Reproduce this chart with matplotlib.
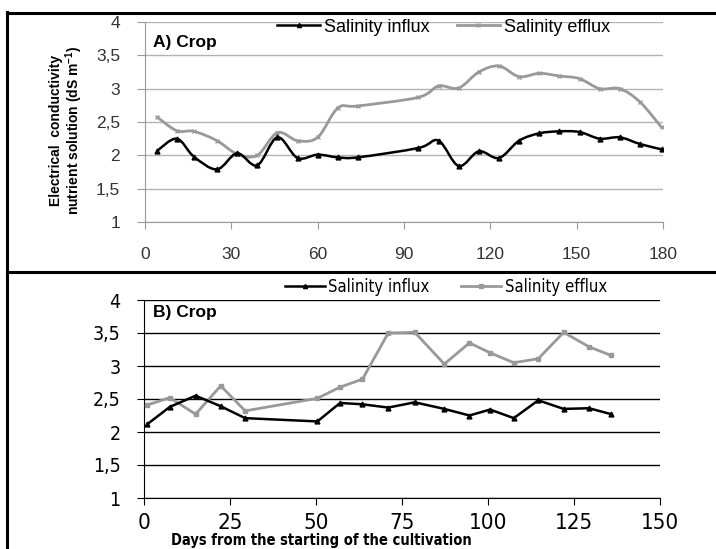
import matplotlib
matplotlib.use("Agg")
import matplotlib.pyplot as plt
import numpy as np
from matplotlib.path import Path
from matplotlib.patches import PathPatch
from matplotlib.lines import Line2D
from matplotlib import font_manager

plt.rcParams['font.family'] = ['Liberation Sans', 'DejaVu Sans']
plt.rcParams['mathtext.fontset'] = 'custom'
plt.rcParams['mathtext.rm'] = 'Liberation Sans'
plt.rcParams['mathtext.bf'] = 'Liberation Sans:bold'

# A) Crop (smoothed lines)
days_a = [4, 11, 17, 25, 32, 39, 46, 53, 60, 67, 74, 95, 102, 109, 116, 123,
          130, 137, 144, 151, 158, 165, 172, 179.5]
influx_a = [2.06, 2.25, 1.98, 1.79, 2.03, 1.85, 2.27, 1.96, 2.01, 1.97, 1.97, 2.11,
            2.22, 1.84, 2.06, 1.96, 2.22, 2.33, 2.36, 2.35, 2.25, 2.27, 2.17, 2.09]
efflux_a = [2.58, 2.37, 2.36, 2.22, 2.02, 2.00, 2.34, 2.22, 2.27, 2.71, 2.74, 2.87,
            3.04, 3.01, 3.25, 3.34, 3.18, 3.23, 3.19, 3.15, 3.00, 3.00, 2.80, 2.42]

# B) Crop (straight lines)
days_b = [1, 7.5, 15, 22.3, 29.4, 50.4, 57, 63.5, 71, 78.7, 87.3, 94.6, 100.6,
          107.5, 114.6, 122, 129.4, 135.8]
influx_b = [2.12, 2.38, 2.55, 2.39, 2.21, 2.16, 2.44, 2.42, 2.37, 2.45, 2.35, 2.25,
            2.34, 2.21, 2.48, 2.35, 2.36, 2.27]
efflux_b = [2.41, 2.52, 2.27, 2.70, 2.32, 2.51, 2.68, 2.80, 3.50, 3.51, 3.03, 3.35,
            3.20, 3.05, 3.11, 3.51, 3.29, 3.16]

y_ticks = [1, 1.5, 2, 2.5, 3, 3.5, 4]
y_labels = ['1', '1,5', '2', '2,5', '3', '3,5', '4']
xticks_a = [0, 30, 60, 90, 120, 150, 180]
xticks_b = [0, 25, 50, 75, 100, 125, 150]

ylab = 'Electrical  conductivity\nnutrient solution (dS m$^{\\mathbf{-1}}$)'

# narrow font for the lower panel (condensed DejaVu if there is one)
names = {f.name for f in font_manager.fontManager.ttflist}
cond = [f for f in font_manager.fontManager.ttflist
        if f.name == 'DejaVu Sans' and 'ondensed' in str(f.stretch) + f.fname]
if 'Liberation Sans Narrow' in names:
    narrow = dict(family='Liberation Sans Narrow')
elif cond:
    narrow = dict(family='DejaVu Sans', stretch='condensed')
else:
    narrow = dict(family='Liberation Sans')


def smooth_path(x, y):
    # excel-like smoothed line as bezier curve through the points
    x = np.asarray(x, float)
    y = np.asarray(y, float)
    pts = np.column_stack([x, y])
    verts = [pts[0]]
    codes = [Path.MOVETO]
    n = len(pts)
    for i in range(n - 1):
        p0 = pts[max(i - 1, 0)]
        p1 = pts[i]
        p2 = pts[i + 1]
        p3 = pts[min(i + 2, n - 1)]
        c1 = p1 + (p2 - p0) / 6.0
        c2 = p2 - (p3 - p1) / 6.0
        verts += [c1, c2, p2]
        codes += [Path.CURVE4] * 3
    return Path(verts, codes)


fig = plt.figure(figsize=(7.16, 5.49), dpi=100)

# ---- top panel
ax1 = fig.add_axes([145 / 716, 1 - 222 / 549, (663 - 145) / 716, 200 / 549])
ax1.add_patch(PathPatch(smooth_path(days_a, efflux_a), fill=False, ec='#999999', lw=2.0, zorder=3))
ax1.add_patch(PathPatch(smooth_path(days_a, influx_a), fill=False, ec='black', lw=1.8, zorder=4))
ax1.plot(days_a, efflux_a, ls='none', marker='x', ms=3, mew=1, color='#999999', zorder=3)
ax1.plot(days_a, influx_a, ls='none', marker='^', ms=3.5, color='black', zorder=4)
ax1.set_xlim(0, 180)
ax1.set_ylim(1, 4)
ax1.set_xticks(xticks_a)
ax1.set_yticks(y_ticks)
ax1.set_yticklabels(y_labels)
ax1.grid(axis='y', color='#b4b4b4', lw=1)
ax1.set_axisbelow(True)
for s in ['top', 'right']:
    ax1.spines[s].set_visible(False)
for s in ['left', 'bottom']:
    ax1.spines[s].set_color('#999999')
ax1.tick_params(axis='x', length=5, color='#999999', pad=13, labelsize=12.5, labelcolor='#333333')
ax1.tick_params(axis='y', length=6, color='#999999', pad=12, labelsize=12.5, labelcolor='#333333')
ax1.text(153 / 716, 1 - 43 / 549, 'A) Crop', transform=fig.transFigure, fontsize=12.5,
         fontweight='bold', va='center', ha='left')
h1, = ax1.plot([], [], color='black', lw=1.8, marker='^', ms=3)
h2, = ax1.plot([], [], color='#999999', lw=2.0, marker='x', ms=3)
fig.legend([h1, h2], ['Salinity influx', 'Salinity efflux'], ncol=2, frameon=False,
           loc='center left', bbox_to_anchor=(277 / 716, 1 - 27 / 549), fontsize=13,
           handlelength=2.4, handletextpad=0.2, columnspacing=1.5, borderpad=0, borderaxespad=0)
fig.text(67 / 716, 1 - 130 / 549, ylab, rotation=90, ha='center', va='center',
         fontsize=10, fontweight='bold', multialignment='center', linespacing=1.0)

# ---- bottom panel
ax2 = fig.add_axes([144 / 716, 1 - 498 / 549, (660 - 144) / 716, 198 / 549])
ax2.plot(days_b, efflux_b, color='#999999', lw=2.0, marker='s', ms=2.5, zorder=3)
ax2.plot(days_b, influx_b, color='black', lw=1.8, marker='^', ms=3.5, zorder=4)
ax2.set_xlim(0, 150)
ax2.set_ylim(1, 4)
ax2.set_xticks(xticks_b)
ax2.set_yticks(y_ticks)
ax2.set_yticklabels(y_labels)
ax2.grid(axis='y', color='black', lw=1)
ax2.set_axisbelow(True)
for s in ['top', 'right']:
    ax2.spines[s].set_visible(False)
ax2.tick_params(axis='x', length=5, pad=6, labelsize=16)
ax2.tick_params(axis='y', length=5, pad=12, labelsize=14)
for lab in ax2.get_xticklabels() + ax2.get_yticklabels():
    lab.set(**narrow)
ax2.text(153 / 716, 1 - 313 / 549, 'B) Crop', transform=fig.transFigure, fontsize=12.5,
         fontweight='bold', va='center', ha='left')
h3, = ax2.plot([], [], color='black', lw=1.8, marker='^', ms=3)
h4, = ax2.plot([], [], color='#999999', lw=2.0, marker='s', ms=2.5)
leg = fig.legend([h3, h4], ['Salinity influx', 'Salinity efflux'], ncol=2, frameon=False,
                 loc='center left', bbox_to_anchor=(285 / 716, 1 - 287 / 549), fontsize=12,
                 handlelength=2.4, handletextpad=0.2, columnspacing=1.9, borderpad=0,
                 borderaxespad=0)
for t in leg.get_texts():
    t.set(**narrow)
fig.text(321 / 716, 1 - 541 / 549, 'Days from the starting of the cultivation',
         ha='center', va='center', fontsize=10.5, fontweight='bold', **narrow)

# ---- frame lines
fig.add_artist(Line2D([7 / 716, 7 / 716], [0, 1 - 12 / 549], color='black', lw=2.2,
                      transform=fig.transFigure))
fig.add_artist(Line2D([7 / 716, 1], [1 - 12.5 / 549, 1 - 12.5 / 549], color='black', lw=2.2,
                      transform=fig.transFigure))
fig.add_artist(Line2D([7 / 716, 1], [1 - 272 / 549, 1 - 272 / 549], color='black', lw=2.2,
                      transform=fig.transFigure))

fig.savefig('out.png', dpi=100)
